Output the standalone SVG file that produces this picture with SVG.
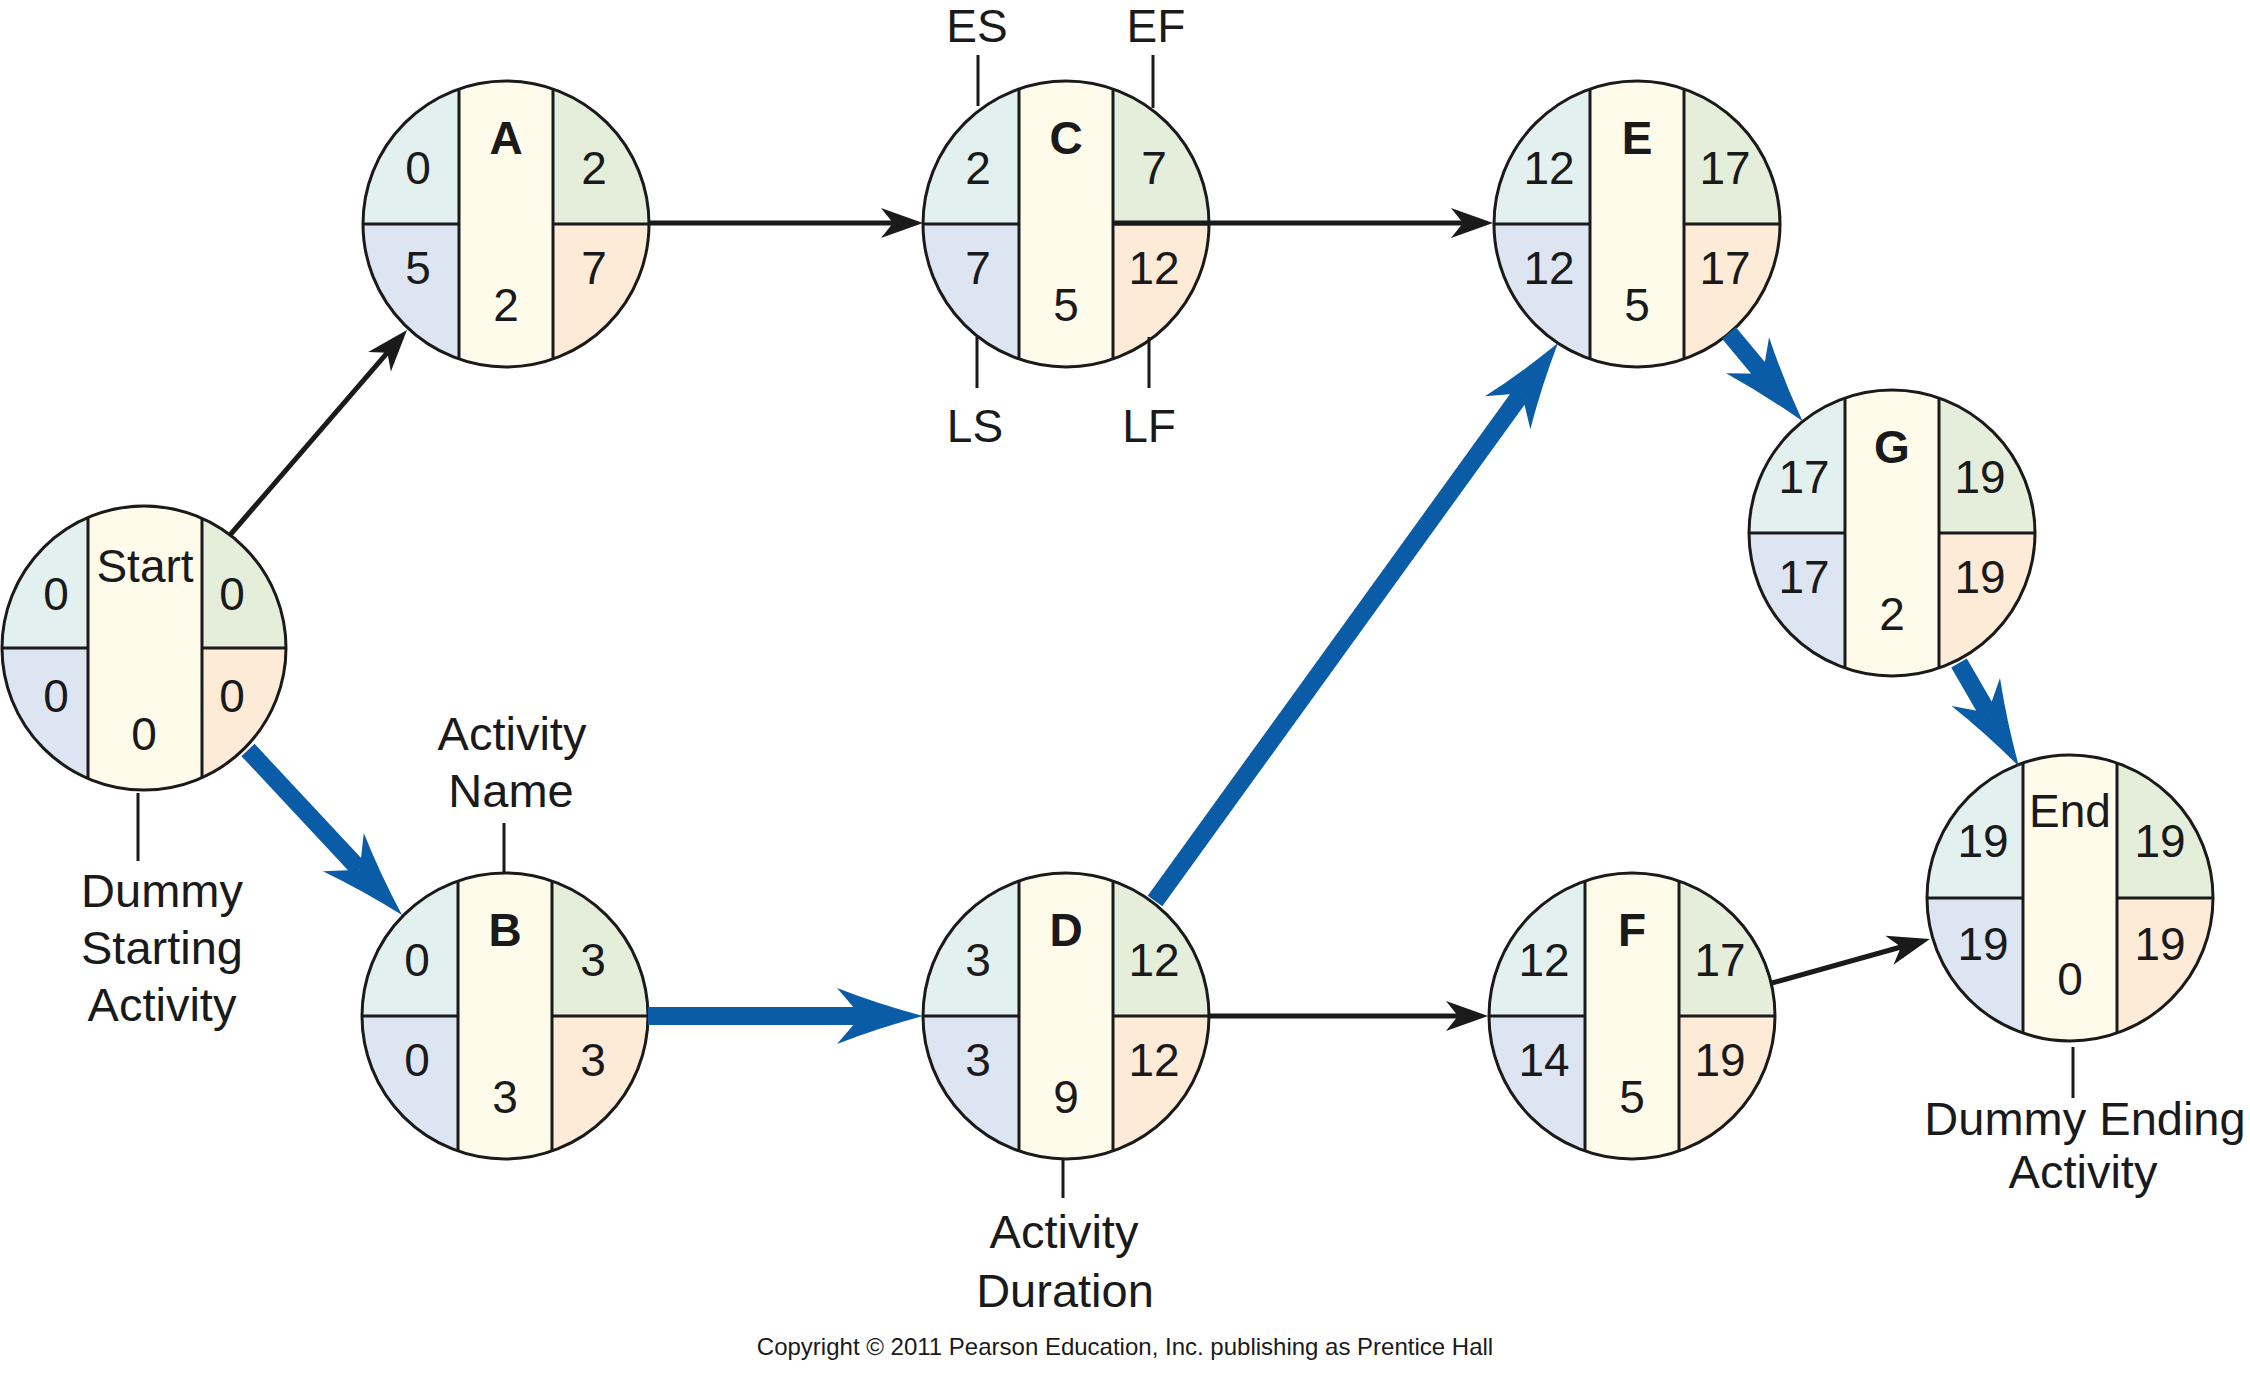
<svg xmlns="http://www.w3.org/2000/svg" xmlns:xlink="http://www.w3.org/1999/xlink" width="2250" height="1381" viewBox="0 0 2250 1381">
<style>
text{font-family:"Liberation Sans",Arial,sans-serif;fill:#1a1a1a;text-anchor:middle}
.n{font-size:46px}
.b{font-weight:bold}
.l{font-size:47px}
.c{font-size:24px}
.ln{stroke:#1a1a1a;stroke-width:3;fill:none}
.blk{stroke:#1a1a1a;stroke-width:5;fill:none;marker-end:url(#ak)}
.blu{stroke:#0b5ca6;stroke-width:18;fill:none;marker-end:url(#ab)}
</style>
<defs>
<clipPath id="cc"><circle cx="0" cy="0" r="143"/></clipPath>
<clipPath id="cs"><circle cx="0" cy="0" r="142"/></clipPath>
<marker id="ak" viewBox="-44 -17 46 34" markerWidth="46" markerHeight="34" refX="-30" refY="0" orient="auto" markerUnits="userSpaceOnUse">
<path d="M0,0 L-42,-15 L-30,0 L-42,15 Z" fill="#1a1a1a"/>
</marker>
<marker id="ab" viewBox="-90 -31 92 62" markerWidth="92" markerHeight="62" refX="-62" refY="0" orient="auto" markerUnits="userSpaceOnUse">
<path d="M0,0 Q-45,-12 -86,-28 L-62,0 L-86,28 Q-45,12 0,0 Z" fill="#0b5ca6"/>
</marker>
<g id="base">
<g clip-path="url(#cc)">
<rect x="-150" y="-150" width="103" height="150" fill="#e2f1ef"/>
<rect x="-150" y="0" width="103" height="150" fill="#dde5f3"/>
<rect x="-47" y="-150" width="94" height="300" fill="#fefbea"/>
<rect x="47" y="-150" width="103" height="150" fill="#e4eedb"/>
<rect x="47" y="0" width="103" height="150" fill="#fdebd8"/>
<path class="ln" d="M-150,0H-47M47,0H150M-47,-150V150M47,-150V150"/>
</g>
<circle cx="0" cy="0" r="143" class="ln"/>
</g>
</defs>
<rect width="2250" height="1381" fill="#ffffff"/>

<g id="node-start" transform="translate(144,648)">
<g clip-path="url(#cs)">
<rect x="-150" y="-150" width="94" height="150" fill="#e2f1ef"/>
<rect x="-150" y="0" width="94" height="150" fill="#dde5f3"/>
<rect x="-56" y="-150" width="114" height="300" fill="#fefbea"/>
<rect x="58" y="-150" width="92" height="150" fill="#e4eedb"/>
<rect x="58" y="0" width="92" height="150" fill="#fdebd8"/>
<path class="ln" d="M-150,0H-56M58,0H150M-56,-150V150M58,-150V150"/>
</g>
<circle cx="0" cy="0" r="142" class="ln"/>
<text class="n" x="1" y="-66">Start</text>
<text class="n" x="-88" y="-38">0</text>
<text class="n" x="88" y="-38">0</text>
<text class="n" x="-88" y="64">0</text>
<text class="n" x="88" y="64">0</text>
<text class="n" x="0" y="102">0</text>
</g>

<g id="node-A" transform="translate(506,224)">
<use xlink:href="#base"/>
<text class="n b" x="0" y="-70">A</text>
<text class="n" x="-88" y="-40">0</text>
<text class="n" x="88" y="-40">2</text>
<text class="n" x="-88" y="60">5</text>
<text class="n" x="88" y="60">7</text>
<text class="n" x="0" y="97">2</text>
</g>

<g id="node-C" transform="translate(1066,224)">
<use xlink:href="#base"/>
<text class="n b" x="0" y="-70">C</text>
<text class="n" x="-88" y="-40">2</text>
<text class="n" x="88" y="-40">7</text>
<text class="n" x="-88" y="60">7</text>
<text class="n" x="88" y="60">12</text>
<text class="n" x="0" y="97">5</text>
</g>

<g id="node-E" transform="translate(1637,224)">
<use xlink:href="#base"/>
<text class="n b" x="0" y="-70">E</text>
<text class="n" x="-88" y="-40">12</text>
<text class="n" x="88" y="-40">17</text>
<text class="n" x="-88" y="60">12</text>
<text class="n" x="88" y="60">17</text>
<text class="n" x="0" y="97">5</text>
</g>

<g id="node-B" transform="translate(505,1016)">
<use xlink:href="#base"/>
<text class="n b" x="0" y="-70">B</text>
<text class="n" x="-88" y="-40">0</text>
<text class="n" x="88" y="-40">3</text>
<text class="n" x="-88" y="60">0</text>
<text class="n" x="88" y="60">3</text>
<text class="n" x="0" y="97">3</text>
</g>

<g id="node-D" transform="translate(1066,1016)">
<use xlink:href="#base"/>
<text class="n b" x="0" y="-70">D</text>
<text class="n" x="-88" y="-40">3</text>
<text class="n" x="88" y="-40">12</text>
<text class="n" x="-88" y="60">3</text>
<text class="n" x="88" y="60">12</text>
<text class="n" x="0" y="97">9</text>
</g>

<g id="node-F" transform="translate(1632,1016)">
<use xlink:href="#base"/>
<text class="n b" x="0" y="-70">F</text>
<text class="n" x="-88" y="-40">12</text>
<text class="n" x="88" y="-40">17</text>
<text class="n" x="-88" y="60">14</text>
<text class="n" x="88" y="60">19</text>
<text class="n" x="0" y="97">5</text>
</g>

<g id="node-G" transform="translate(1892,533)">
<use xlink:href="#base"/>
<text class="n b" x="0" y="-70">G</text>
<text class="n" x="-88" y="-40">17</text>
<text class="n" x="88" y="-40">19</text>
<text class="n" x="-88" y="60">17</text>
<text class="n" x="88" y="60">19</text>
<text class="n" x="0" y="97">2</text>
</g>

<g id="node-end" transform="translate(2070,898)">
<use xlink:href="#base"/>
<text class="n" x="0" y="-71">End</text>
<text class="n" x="-87" y="-41">19</text>
<text class="n" x="90" y="-41">19</text>
<text class="n" x="-87" y="62">19</text>
<text class="n" x="90" y="62">19</text>
<text class="n" x="0" y="97">0</text>
</g>

<g id="connectors">
<line class="blk" x1="230" y1="535" x2="387.4" y2="352.7"/>
<line class="blk" x1="650" y1="223" x2="893" y2="223"/>
<line class="blk" x1="1113" y1="223" x2="1463" y2="223"/>
<line class="blk" x1="1210" y1="1016" x2="1458" y2="1016"/>
<line class="blk" x1="1772" y1="983" x2="1901" y2="947"/>
<line class="blu" x1="248" y1="750" x2="359.7" y2="869.7"/>
<line class="blu" x1="648" y1="1016" x2="861" y2="1016"/>
<line class="blu" x1="1155" y1="901" x2="1521.7" y2="393.3"/>
<line class="blu" x1="1729" y1="333" x2="1762.9" y2="373.7"/>
<line class="blu" x1="1959" y1="663" x2="1987.8" y2="712.7"/>
</g>

<g id="annotations">
<path class="ln" d="M978,55V106M1153,55V108M977,337V388M1149,337V388M504,823V873M1063,1160V1198M2073,1047V1098M138,793V861"/>
<text class="n" x="977" y="42">ES</text>
<text class="n" x="1156" y="42">EF</text>
<text class="n" x="975" y="442">LS</text>
<text class="n" x="1149" y="442">LF</text>
<text class="l" x="512" y="750">Activity</text>
<text class="l" x="511" y="807">Name</text>
<text class="l" x="1064" y="1248">Activity</text>
<text class="l" x="1065" y="1307">Duration</text>
<text class="l" x="2085" y="1135">Dummy Ending</text>
<text class="l" x="2083" y="1188">Activity</text>
<text class="l" x="162" y="907">Dummy</text>
<text class="l" x="162" y="964">Starting</text>
<text class="l" x="162" y="1021">Activity</text>
<text class="c" x="1125" y="1355">Copyright © 2011 Pearson Education, Inc. publishing as Prentice Hall</text>
</g>
</svg>
